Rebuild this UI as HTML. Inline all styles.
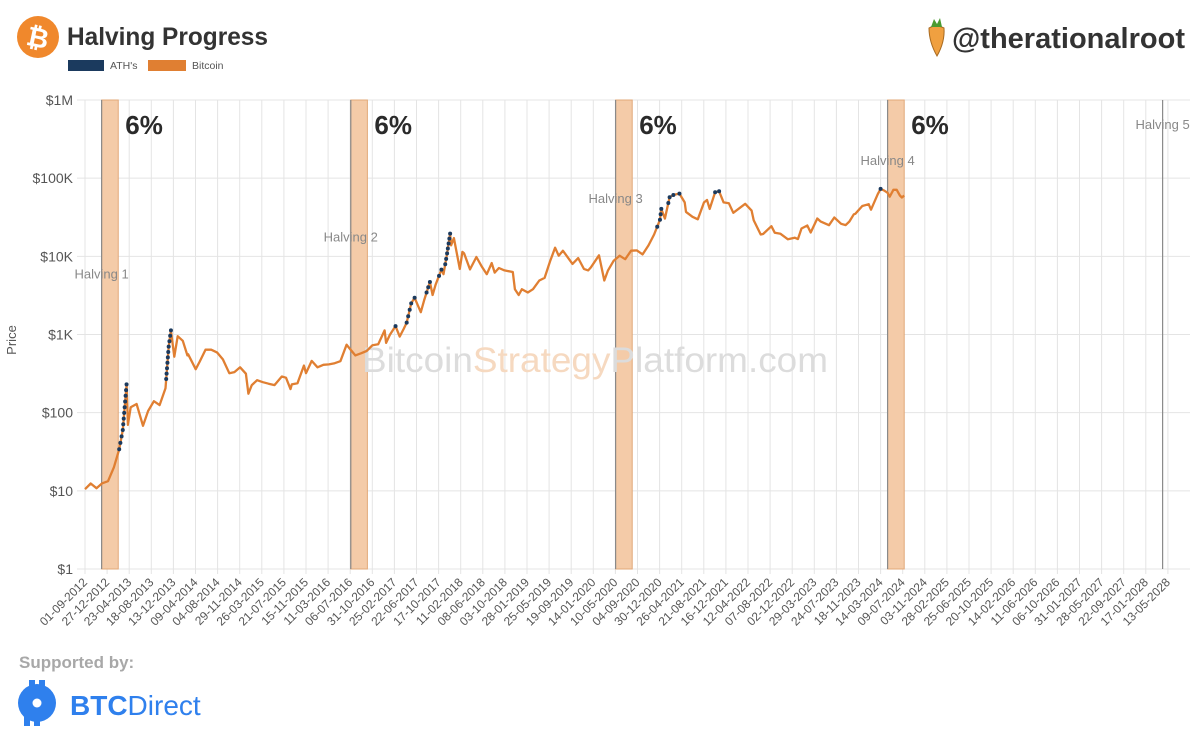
<!DOCTYPE html>
<html><head><meta charset="utf-8"><style>
html,body{margin:0;padding:0;background:#fff;width:1200px;height:749px;overflow:hidden;font-family:"Liberation Sans",sans-serif}
svg{position:absolute;left:0;top:0}
</style></head><body>
<svg id="chart" width="1200" height="749" viewBox="0 0 1200 749">
<g>
 <circle cx="38" cy="37" r="21" fill="#f0882c"/>
 <text x="38" y="47" text-anchor="middle" font-size="27" font-weight="bold" fill="#fff" transform="rotate(12 38 37)">₿</text>
 <text x="67" y="45" font-size="25" fill="#333" textLength="201" lengthAdjust="spacingAndGlyphs" style="font-weight:600">Halving Progress</text>
 <rect x="68" y="60" width="36" height="11" fill="#1b3a5e"/>
 <text x="110" y="69" font-size="10.5" fill="#555">ATH's</text>
 <rect x="148" y="60" width="38" height="11" fill="#e07f32"/>
 <text x="192" y="69" font-size="10.5" fill="#555">Bitcoin</text>
 <g>
  <path d="M929 28 Q936 24 944 28 Q945 42 937 56 Q929 42 929 28Z" fill="#f0a040" stroke="#a86a20" stroke-width="1"/>
  <path d="M931 27 L934 19 L937 24 L940 18 L942 27Z" fill="#4a9a30"/>
 </g>
 <text x="952" y="48" font-size="29" font-weight="bold" fill="#333" textLength="233" lengthAdjust="spacingAndGlyphs">@therationalroot</text>
</g>
<g id="grid"></g>
<g id="bands"></g>
<text x="595" y="372" text-anchor="middle" font-size="35" fill="#dcdcdc" textLength="466" lengthAdjust="spacingAndGlyphs">Bitcoin<tspan fill="#f6d9c0">Strategy</tspan>Platform.com</text>
<g id="yaxis"></g>
<g id="xaxis"></g>
<text x="16" y="340" font-size="13" fill="#555" text-anchor="middle" transform="rotate(-90 16 340)">Price</text>
<path id="priceLine" fill="none" stroke="#e07f32" stroke-width="2.3" stroke-linejoin="round"/>
<g id="ath"></g>
<g id="ann"></g>
<g>
 <text x="19" y="668" font-size="17" font-weight="bold" fill="#a8a8a8">Supported by:</text>
 <g>
  <circle cx="37" cy="703" r="19" fill="#2f80ed"/>
  <rect x="29" y="680" width="6" height="8" fill="#2f80ed"/><rect x="39" y="680" width="6" height="8" fill="#2f80ed"/>
  <rect x="24" y="716" width="6" height="10" fill="#2f80ed"/><rect x="34" y="716" width="6" height="10" fill="#2f80ed"/>
  <circle cx="37" cy="703" r="4.5" fill="#fff"/>
 </g>
 <text x="70" y="715" font-size="28" fill="#2f80ed"><tspan font-weight="bold">BTC</tspan>Direct</text>
</g>
</svg>
<script>
const NS="http://www.w3.org/2000/svg";
const tickStart="2012-09-01";
const tickStepDays=117;
const tickCount=50;
const yTickValues=[1,10,100,1000,10000,100000,1000000];
const yTickLabels=["$1","$10","$100","$1K","$10K","$100K","$1M"];
const halvingDates=["2012-11-28","2016-07-09","2020-05-11","2024-04-20","2028-04-15"];
const halvingLabels=["Halving 1","Halving 2","Halving 3","Halving 4","Halving 5"];
const halvingLabelPrices=[6000,18000,56000,170000,495000];
const bandPercent=["6%","6%","6%","6%"];
const bandDays=88;
const initialATH=32;
const priceDates=["2012-09-01","2012-10-01","2012-11-01","2012-12-01","2013-01-01","2013-02-01","2013-03-01","2013-03-20","2013-04-09","2013-04-16","2013-05-01","2013-06-01","2013-07-05","2013-08-01","2013-09-01","2013-10-01","2013-11-01","2013-11-18","2013-11-30","2013-12-18","2014-01-05","2014-02-01","2014-02-25","2014-03-01","2014-04-10","2014-05-01","2014-06-01","2014-07-01","2014-08-01","2014-09-01","2014-10-05","2014-11-01","2014-12-01","2015-01-01","2015-01-14","2015-02-01","2015-03-01","2015-04-01","2015-05-01","2015-06-01","2015-07-10","2015-08-01","2015-08-25","2015-09-01","2015-10-01","2015-11-04","2015-11-15","2015-12-15","2016-01-15","2016-02-15","2016-03-15","2016-04-15","2016-05-15","2016-06-17","2016-07-01","2016-08-02","2016-09-01","2016-10-01","2016-11-01","2016-12-01","2017-01-04","2017-01-12","2017-02-01","2017-03-03","2017-03-25","2017-04-15","2017-05-01","2017-05-25","2017-06-12","2017-07-15","2017-08-01","2017-09-01","2017-09-15","2017-10-01","2017-11-01","2017-11-12","2017-12-01","2017-12-17","2017-12-22","2018-01-06","2018-02-06","2018-02-20","2018-03-01","2018-04-01","2018-05-05","2018-06-01","2018-06-29","2018-07-25","2018-08-10","2018-09-01","2018-10-01","2018-11-14","2018-11-25","2018-12-15","2019-01-01","2019-02-01","2019-03-01","2019-04-03","2019-05-01","2019-05-30","2019-06-26","2019-07-15","2019-08-06","2019-09-01","2019-09-26","2019-10-26","2019-11-25","2019-12-18","2020-01-01","2020-02-13","2020-03-12","2020-04-01","2020-05-01","2020-06-01","2020-07-01","2020-08-01","2020-09-01","2020-10-01","2020-11-01","2020-12-01","2021-01-01","2021-01-08","2021-01-27","2021-02-21","2021-03-13","2021-04-14","2021-05-12","2021-05-19","2021-06-22","2021-07-20","2021-08-22","2021-09-07","2021-09-21","2021-10-20","2021-11-10","2021-12-04","2022-01-01","2022-01-24","2022-03-28","2022-05-01","2022-05-12","2022-06-18","2022-07-01","2022-08-14","2022-09-01","2022-10-01","2022-11-09","2022-12-15","2023-01-01","2023-01-20","2023-02-20","2023-03-10","2023-04-14","2023-05-01","2023-06-15","2023-07-13","2023-08-18","2023-09-11","2023-10-01","2023-10-24","2023-11-01","2023-12-08","2024-01-11","2024-01-23","2024-02-28","2024-03-14","2024-04-01","2024-04-20","2024-05-01","2024-05-21","2024-06-07","2024-06-24","2024-07-05","2024-07-17"];
const priceValues=[10.5,12.4,10.8,12.5,13.3,20,34,60,230,70,117,129,68,105,140,125,205,700,1130,520,950,830,540,560,360,450,640,640,590,480,320,330,380,315,175,225,260,245,235,225,290,280,200,230,238,400,320,460,380,410,415,430,455,740,670,540,575,615,730,750,1130,780,990,1280,940,1180,1420,2500,2950,1930,2730,4700,3200,4330,6750,5900,10900,19500,13800,17100,6900,11400,10900,6800,9800,7500,5900,8200,6200,7100,6600,6300,3800,3200,3800,3450,3800,4900,5300,8600,12900,10200,11800,9700,8000,9500,6900,6600,7200,10300,4900,6600,8800,10200,9200,11800,11900,10600,13800,19000,29400,40500,30400,57000,61000,63500,49000,37000,32000,29800,49000,52600,40500,66000,68000,49000,47700,36000,47000,38500,29000,19000,19300,24300,20000,19400,16500,17300,16600,22700,24800,20200,30500,28000,25000,31400,26100,25100,27900,34500,35000,44000,46500,39500,62500,73000,69700,64900,58000,71000,71000,60000,56600,60000];

const X0=85, PXD=22.1/117, YTOP=100, YBOT=569;
const t0=Date.parse(tickStart);
function days(d){return (Date.parse(d)-t0)/86400000;}
function xScale(d){return X0+days(d)*PXD;}
function yScale(v){return YBOT-(Math.log10(v)/6)*(YBOT-YTOP);}
function mk(tag,attrs,parent,text){const e=document.createElementNS(NS,tag);for(const k in attrs)e.setAttribute(k,attrs[k]);if(text!==undefined)e.textContent=text;parent.appendChild(e);return e;}
function fmt(ms){const d=new Date(ms);const p=n=>String(n).padStart(2,"0");return p(d.getUTCDate())+"-"+p(d.getUTCMonth()+1)+"-"+d.getUTCFullYear();}

const grid=document.getElementById("grid"),xa=document.getElementById("xaxis"),ya=document.getElementById("yaxis");
for(let i=0;i<tickCount;i++){
 const ms=t0+i*tickStepDays*86400000;const x=X0+i*tickStepDays*PXD;
 const g=mk("line",{x1:x,x2:x,y1:YTOP,y2:YBOT+5,stroke:"#e4e4e4","stroke-width":1},grid);
 
 
 const t=mk("text",{x:x+3,y:YBOT+14,"font-size":12,fill:"#555","text-anchor":"end",transform:`rotate(-45 ${x+3} ${YBOT+14})`},xa,fmt(ms));
 
 
}
yTickValues.forEach((v,i)=>{
 const y=yScale(v);
 const g=mk("line",{x1:X0-8,x2:1190,y1:y,y2:y,stroke:"#e4e4e4","stroke-width":1},grid);
 
 
 const t=mk("text",{x:X0-12,y:y+5,"font-size":14,fill:"#555","text-anchor":"end"},ya,yTickLabels[i]);
 
 
});
const bands=document.getElementById("bands"),ann=document.getElementById("ann");
halvingDates.forEach((d,i)=>{
 const x=xScale(d);
 if(i<bandPercent.length){
  const w=bandDays*PXD;
  const r=mk("rect",{x:x,y:YTOP,width:w,height:YBOT-YTOP,fill:"#f4cba8",stroke:"#e2a878","stroke-width":1},bands);
  
  
  const p=mk("text",{x:x+w+7,y:134,"font-size":26,"font-weight":"bold",fill:"#2a2a2a"},ann,bandPercent[i]);
  
  
 }
 const l=mk("line",{x1:x,x2:x,y1:YTOP,y2:YBOT,stroke:"#8a8a8a","stroke-width":1.2},bands);
 
 
 const t=mk("text",{x:x,y:yScale(halvingLabelPrices[i])+5,"font-size":13,fill:"#888","text-anchor":"middle"},ann,halvingLabels[i]);
 
 
});
let dstr="";
priceDates.forEach((d,i)=>{dstr+=(i?"L":"M")+xScale(d).toFixed(1)+" "+yScale(priceValues[i]).toFixed(1);});
document.getElementById("priceLine").setAttribute("d",dstr);
const athG=document.getElementById("ath");
let maxv=initialATH;
priceDates.forEach((d,i)=>{
 const v=priceValues[i];
 if(v>maxv){
  const prevD=i>0?priceDates[i-1]:d, prevV=i>0?priceValues[i-1]:v;
  const start=Math.max(maxv,prevV);
  const n=Math.max(1,Math.round((Math.log10(v)-Math.log10(start))*14));
  for(let k=1;k<=n;k++){
   const f=k/n;const lv=Math.log10(start)+(Math.log10(v)-Math.log10(start))*f;
   const pv=Math.pow(10,lv);
   const fx=(Math.log10(pv)-Math.log10(prevV))/((Math.log10(v)-Math.log10(prevV))||1);
   const x=xScale(prevD)+(xScale(d)-xScale(prevD))*fx;
   const c=mk("circle",{cx:x,cy:yScale(pv),r:2,fill:"#1b3a5e"},athG);
   
   
  }
  maxv=v;
 }
});
</script>
</body></html>
